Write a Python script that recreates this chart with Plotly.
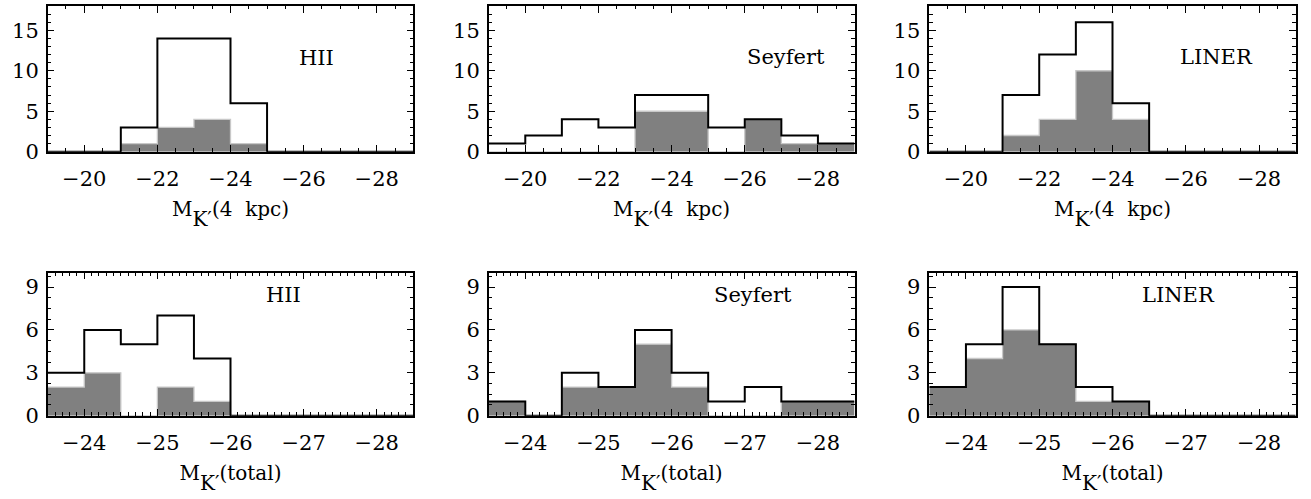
import plotly.graph_objects as go

# ---------------- data ----------------
# top row: M_K'(4 kpc), bins of 1 mag from -19 to -29
edges_4kpc = [-19, -20, -21, -22, -23, -24, -25, -26, -27, -28, -29]
hii_4kpc_all = [0, 0, 3, 14, 14, 6, 0, 0, 0, 0]
hii_4kpc_sub = [0, 0, 1, 3, 4, 1, 0, 0, 0, 0]
sey_4kpc_all = [1, 2, 4, 3, 7, 7, 3, 4, 2, 1]
sey_4kpc_sub = [0, 0, 0, 0, 5, 5, 0, 4, 1, 1]
lin_4kpc_all = [0, 0, 7, 12, 16, 6, 0, 0, 0, 0]
lin_4kpc_sub = [0, 0, 2, 4, 10, 4, 0, 0, 0, 0]

# bottom row: M_K'(total), bins of 0.5 mag from -23.5 to -28.5
edges_tot = [-23.5, -24.0, -24.5, -25.0, -25.5, -26.0, -26.5, -27.0, -27.5, -28.0, -28.5]
hii_tot_all = [3, 6, 5, 7, 4, 0, 0, 0, 0, 0]
hii_tot_sub = [2, 3, 0, 2, 1, 0, 0, 0, 0, 0]
sey_tot_all = [1, 0, 3, 2, 6, 3, 1, 2, 1, 1]
sey_tot_sub = [1, 0, 2, 2, 5, 2, 0, 0, 1, 1]
lin_tot_all = [2, 5, 9, 5, 2, 1, 0, 0, 0, 0]
lin_tot_sub = [2, 4, 6, 5, 1, 1, 0, 0, 0, 0]

class_labels = ["HII", "Seyfert", "LINER"]
xticks_4kpc = [-20, -22, -24, -26, -28]
xticks_tot = [-24, -25, -26, -27, -28]
yticks_4kpc = [0, 5, 10, 15]
yticks_tot = [0, 3, 6, 9]
# nested <sub> tags push the subscript lower, the span restores its size
SUB = "<sub><sub><sub><sub><span style='font-size:20px'>K′</span></sub></sub></sub></sub>"
xtitle_4kpc = "M" + SUB + "(4\u00a0\u00a0kpc)"
xtitle_tot = "M" + SUB + "(total)"

# ---------------- layout geometry ----------------
W, H = 1311, 499
col_px = [(47.7, 413.3), (488.7, 854.5), (929.3, 1295.7)]
row_px = [(6.0, 151.7), (272.7, 415.7)]
label_pos = [
    [(0.736, 0.64), (0.812, 0.65), (0.784, 0.65)],
    [(0.644, 0.845), (0.723, 0.845), (0.681, 0.845)],
]

FONT = "DejaVu Serif"
GRAY = "#808080"
LIGHT = "#c8c8c8"

rows = [
    dict(edges=edges_4kpc, all=[hii_4kpc_all, sey_4kpc_all, lin_4kpc_all],
         sub=[hii_4kpc_sub, sey_4kpc_sub, lin_4kpc_sub],
         xr=[-19, -29], yr=[0, 18], xt=xticks_4kpc, yt=yticks_4kpc,
         xminor=0.5, yminor=1, title=xtitle_4kpc),
    dict(edges=edges_tot, all=[hii_tot_all, sey_tot_all, lin_tot_all],
         sub=[hii_tot_sub, sey_tot_sub, lin_tot_sub],
         xr=[-23.5, -28.5], yr=[0, 10], xt=xticks_tot, yt=yticks_tot,
         xminor=0.1, yminor=0.75, title=xtitle_tot),
]

fig = go.Figure()


def step(edges, vals):
    return list(edges), list(vals) + [vals[-1]]


k = 0
for r, row in enumerate(rows):
    for c in range(3):
        k += 1
        xa = "x" if k == 1 else f"x{k}"
        ya = "y" if k == 1 else f"y{k}"
        xs, ys_sub = step(row["edges"], row["sub"][c])
        _, ys_all = step(row["edges"], row["all"][c])
        fig.add_trace(go.Scatter(
            x=xs, y=ys_sub, mode="lines", line=dict(shape="hv", color=LIGHT, width=1.3),
            fill="tozeroy", fillcolor=GRAY, xaxis=xa, yaxis=ya, showlegend=False,
            hoverinfo="skip"))
        fig.add_trace(go.Scatter(
            x=xs, y=ys_all, mode="lines", line=dict(shape="hv", color="black", width=2),
            xaxis=xa, yaxis=ya, showlegend=False, hoverinfo="skip"))

        x0, x1 = col_px[c]
        y0, y1 = row_px[r]
        axis_common = dict(showline=True, linecolor="black", linewidth=1.5, mirror="ticks",
                           ticks="inside", ticklen=7, tickwidth=1.2, tickcolor="black",
                           showgrid=False, zeroline=False, automargin=False,
                           tickfont=dict(family=FONT, size=21, color="black"))
        xkey = "xaxis" if k == 1 else f"xaxis{k}"
        ykey = "yaxis" if k == 1 else f"yaxis{k}"
        fig.update_layout({
            xkey: dict(axis_common, domain=[x0 / W, x1 / W], anchor=ya,
                       range=row["xr"], tickvals=row["xt"],
                       minor=dict(dtick=row["xminor"], tick0=0, ticks="inside",
                                  ticklen=3.5, tickwidth=1, tickcolor="black", showgrid=False),
                       ticklabelstandoff=7,
                       title=dict(text=row["title"], standoff=12,
                                  font=dict(family=FONT, size=20, color="black"))),
            ykey: dict(axis_common, domain=[1 - y1 / H, 1 - y0 / H], anchor=xa,
                       range=row["yr"], tickvals=row["yt"],
                       minor=dict(dtick=row["yminor"], tick0=0, ticks="inside",
                                  ticklen=3.5, tickwidth=1, tickcolor="black", showgrid=False),
                       ticklabelstandoff=3),
        })
        lx, ly = label_pos[r][c]
        fig.add_annotation(text=class_labels[c], xref=f"{xa} domain", yref=f"{ya} domain",
                           x=lx, y=ly, showarrow=False, xanchor="center", yanchor="middle",
                           font=dict(family=FONT, size=21, color="black"))

fig.update_layout(width=W, height=H, margin=dict(l=0, r=0, t=0, b=0),
                  paper_bgcolor="white", plot_bgcolor="white")

fig.write_html("out.html", config={"displayModeBar": False},
               post_script="document.body.style.margin='0px';document.body.style.overflow='hidden';")
